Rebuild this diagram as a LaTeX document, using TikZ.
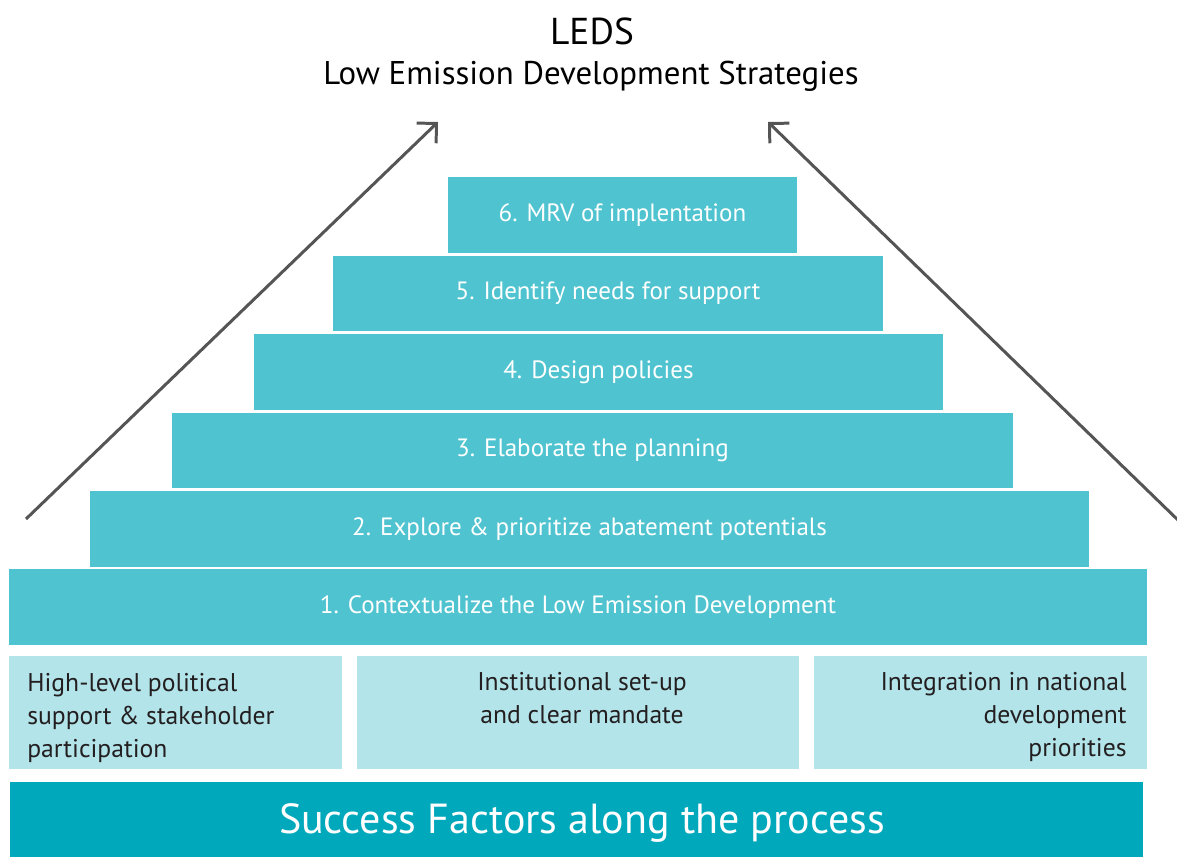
\documentclass[tikz,border=0pt]{standalone}
\usepackage{fontspec}
\setmainfont{PT Sans}
\usetikzlibrary{arrows.meta}
\definecolor{stepcol}{HTML}{4FC3CF}
\definecolor{factcol}{HTML}{B3E4EA}
\definecolor{barcol}{HTML}{00A8BC}
\definecolor{arrcol}{HTML}{555555}
\definecolor{inkcol}{HTML}{231F20}
\tikzset{
  stepbox/.style={fill=stepcol, inner sep=0pt, minimum height=1.52cm,
    text=white, font=\fontsize{14.25}{16}\selectfont},
  factbox/.style={fill=factcol, inner sep=0pt, minimum height=2.26cm, minimum width=6.66cm},
  facttext/.style={inner sep=0pt, text=inkcol, font=\fontsize{14.6}{18.6}\selectfont},
  riseline/.style={draw=arrcol, line width=1.7pt,
    -{Straight Barb[length=0.28cm, width=0.56cm, line width=1.7pt]}},
}
\begin{document}
\begin{tikzpicture}[x=0.02cm, y=-0.02cm]
\useasboundingbox (0,0) rectangle (1177,857);
% title
\node[inner sep=0pt, font=\fontsize{21.3}{25}\selectfont] (leds) at (592,31) {LEDS};
\node[inner sep=0pt, font=\fontsize{18.7}{22}\selectfont] (ledsfull) at (591,76) {Low Emission Development Strategies};
% the six steps
\node[stepbox, minimum width=6.98cm] (s6) at (622.5,215) {\raisebox{-1.5pt}{6. MRV of implentation}};
\node[stepbox, minimum width=11.0cm] (s5) at (608,293.5) {\raisebox{-1.5pt}{5. Identify needs for support}};
\node[stepbox, minimum width=13.78cm] (s4) at (598.5,372) {\raisebox{-1.5pt}{4. Design policies}};
\node[stepbox, minimum width=16.82cm] (s3) at (592.5,450.5) {\raisebox{-1.5pt}{3. Elaborate the planning}};
\node[stepbox, minimum width=19.98cm] (s2) at (589.5,529) {\raisebox{-1.5pt}{2. Explore \& prioritize abatement potentials}};
\node[stepbox, minimum width=22.76cm] (s1) at (578,607) {\raisebox{-1.5pt}{1. Contextualize the Low Emission Development}};
% arrows
\coordinate (lfoot) at (26,519);
\coordinate (ltip) at (438,122);
\coordinate (rfoot) at (1180,522);
\coordinate (rtip) at (768,122);
\draw[riseline] (lfoot) -- (ltip);
\draw[riseline] (rfoot) -- (rtip);
% success factors
\node[factbox] (f1) at (175.5,712.5) {};
\node[factbox, minimum width=8.84cm] (f2) at (578,712.5) {};
\node[factbox] (f3) at (980.5,712.5) {};
\node[facttext, anchor=west, align=left] (t1) at (27,718) {High-level political\\support \& stakeholder\\participation};
\node[facttext, anchor=north, align=center] (t2) at (582,672) {Institutional set-up\\and clear mandate};
\node[facttext, anchor=east, align=right] (t3) at (1127,717) {Integration in national\\development\\priorities};
\node[fill=barcol, inner sep=0pt, minimum width=22.66cm, minimum height=1.5cm] (bar) at (576.5,819.5) {};
\node[inner sep=0pt, text=white, font=\fontsize{23.9}{28}\selectfont] (bartext) at (582,823) {Success Factors along the process};
\end{tikzpicture}
\end{document}
